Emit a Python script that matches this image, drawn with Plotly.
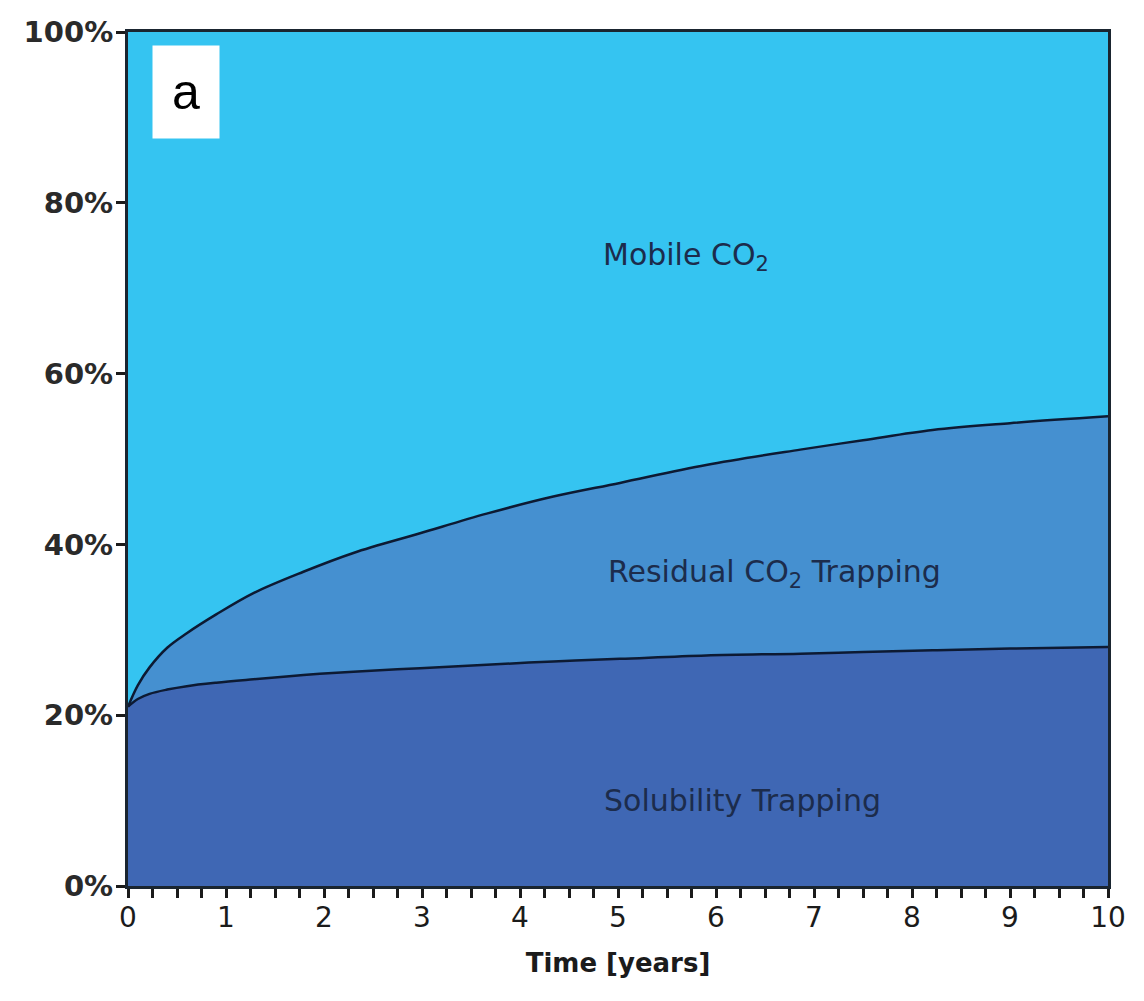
import plotly.graph_objects as go

# Data
time_years = [0, 0.1, 0.22, 0.4, 0.6, 0.9, 1.28, 1.79, 2.3, 2.98, 3.66, 4.34, 5.02, 5.9, 6.86, 7.5, 8.21, 9.0, 10.0]
solubility_pct = [21.0, 21.9, 22.5, 23.0, 23.4, 23.8, 24.2, 24.7, 25.1, 25.5, 25.9, 26.3, 26.6, 27.0, 27.2, 27.4, 27.6, 27.8, 28.0]
trapped_total_pct = [21.0, 23.5, 25.6, 27.9, 29.6, 31.8, 34.3, 36.8, 39.0, 41.3, 43.6, 45.6, 47.2, 49.3, 51.1, 52.2, 53.4, 54.2, 55.0]
residual_pct = [t - s for t, s in zip(trapped_total_pct, solubility_pct)]
mobile_pct = [100 - t for t in trapped_total_pct]

y_tickvals = [0, 20, 40, 60, 80, 100]
y_ticktext = ["<b>0%</b>", "<b>20%</b>", "<b>40%</b>", "<b>60%</b>", "<b>80%</b>", "<b>100%</b>"]
x_tickvals = list(range(0, 11))

c_sol = "#3F67B4"
c_res = "#4590D0"
c_mob = "#35C4F1"
txt = "#1C2C4C"
ink = "#1b1b1b"
FONT = "DejaVu Sans, Liberation Sans, Arial, sans-serif"

fig = go.Figure()
fig.add_trace(go.Scatter(x=time_years, y=solubility_pct, stackgroup="a", mode="lines",
                         line=dict(color="#0d1a33", width=2.5, shape="spline", smoothing=1.0), fillcolor=c_sol,
                         name="Solubility Trapping"))
fig.add_trace(go.Scatter(x=time_years, y=residual_pct, stackgroup="a", mode="lines",
                         line=dict(color="#0d1a33", width=2.5, shape="spline", smoothing=1.0), fillcolor=c_res,
                         name="Residual CO2 Trapping"))
fig.add_trace(go.Scatter(x=time_years, y=mobile_pct, stackgroup="a", mode="lines",
                         line=dict(color=c_mob, width=0, shape="spline"), fillcolor=c_mob,
                         name="Mobile CO2"))

fig.update_layout(
    width=1144, height=1001,
    margin=dict(l=128, r=36, t=32, b=115),
    plot_bgcolor=c_mob, paper_bgcolor="white",
    showlegend=False,
    font=dict(family=FONT, color=ink),
    xaxis=dict(range=[0, 10], tickvals=x_tickvals, ticks="outside", ticklen=9, tickwidth=3,
               tickcolor=ink, showgrid=False, zeroline=False, showline=True, linecolor="#1a2530",
               linewidth=3, mirror=True, tickfont=dict(size=28, color=ink, family=FONT),
               ticklabelstandoff=-5,
               minor=dict(dtick=0.25, ticks="outside", ticklen=9, tickwidth=3, tickcolor=ink, showgrid=False),
               title=dict(text="<b>Time [years]</b>", font=dict(size=26, color=ink, family=FONT), standoff=22)),
    yaxis=dict(range=[0, 100], tickvals=y_tickvals, ticktext=y_ticktext, ticks="outside", ticklen=9,
               tickwidth=3, tickcolor=ink, showgrid=False, zeroline=False, showline=True,
               linecolor="#1a2530", linewidth=3, mirror=True,
               tickfont=dict(size=29, color="#2a2a2a", family=FONT), ticklabelstandoff=-3),
)

def px_to_data(px, py):
    return (px - 128) / 98.0, (886 - py) / 8.54

for text, px, py in [("Mobile CO<sub>2</sub>", 686, 256),
                     ("Residual CO<sub>2</sub> Trapping", 774, 573),
                     ("Solubility Trapping", 742, 800)]:
    xd, yd = px_to_data(px, py)
    fig.add_annotation(x=xd, y=yd, xref="x", yref="y", text=text, showarrow=False,
                       font=dict(size=30, color=txt, family=FONT))

# panel label "a"
fig.add_annotation(x=0.0245, y=0.985, xref="paper", yref="paper", text="a", showarrow=False,
                   font=dict(size=50, color="black", family="Liberation Sans, Arial, sans-serif"),
                   bgcolor="white", width=66, height=92,
                   xanchor="left", yanchor="top", borderpad=0, valign="middle")
fig.write_html("out.html")
